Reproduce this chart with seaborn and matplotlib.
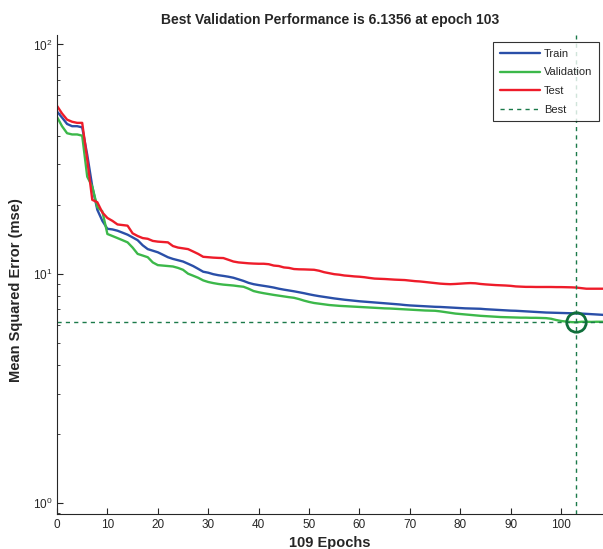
import numpy as np
import pandas as pd
import matplotlib
matplotlib.use("Agg")
import matplotlib.pyplot as plt
import seaborn as sns

# ---------------------------------------------------------------
# data (mse per epoch, epochs 0..109)
# ---------------------------------------------------------------
epochs = list(range(110))

train_mse = [
    51.0, 48.0, 45.0, 44.0, 44.0, 43.5, 33.0, 24.0, 19.0, 17.0,
    15.7, 15.6, 15.4, 15.1, 14.8, 14.4, 14.0, 13.3, 12.8, 12.6,
    12.4, 12.1, 11.8, 11.6, 11.45, 11.3, 11.05, 10.8, 10.5, 10.2,
    10.1, 9.95, 9.85, 9.78, 9.7, 9.6, 9.45, 9.3, 9.12, 9.0,
    8.92, 8.85, 8.78, 8.7, 8.6, 8.52, 8.45, 8.38, 8.3, 8.22,
    8.13, 8.05, 7.98, 7.92, 7.86, 7.8, 7.75, 7.7, 7.66, 7.62,
    7.58, 7.55, 7.52, 7.49, 7.46, 7.43, 7.4, 7.37, 7.34, 7.3,
    7.27, 7.25, 7.23, 7.21, 7.19, 7.17, 7.16, 7.14, 7.12, 7.1,
    7.08, 7.06, 7.05, 7.04, 7.03, 7.0, 6.98, 6.96, 6.94, 6.92,
    6.9, 6.89, 6.87, 6.85, 6.83, 6.81, 6.79, 6.77, 6.76, 6.75,
    6.74, 6.73, 6.72, 6.71, 6.7, 6.68, 6.66, 6.64, 6.62, 6.6,
]

val_mse = [
    48.3, 44.0, 41.0, 40.5, 40.5, 40.0, 26.5, 24.0, 19.5, 18.7,
    14.9, 14.6, 14.3, 14.0, 13.7, 13.0, 12.2, 12.0, 11.8, 11.2,
    10.9, 10.85, 10.8, 10.75, 10.6, 10.4, 10.0, 9.8, 9.6, 9.35,
    9.2, 9.1, 9.02, 8.96, 8.92, 8.88, 8.82, 8.77, 8.6, 8.4,
    8.3, 8.22, 8.15, 8.08, 8.02, 7.96, 7.9, 7.85, 7.75, 7.63,
    7.53, 7.45, 7.4, 7.35, 7.3, 7.27, 7.24, 7.22, 7.2, 7.18,
    7.16, 7.14, 7.12, 7.1, 7.08, 7.06, 7.05, 7.03, 7.01, 6.99,
    6.97, 6.95, 6.93, 6.91, 6.9, 6.89, 6.85, 6.8, 6.75, 6.7,
    6.67, 6.64, 6.61, 6.58, 6.55, 6.53, 6.51, 6.49, 6.47, 6.46,
    6.45, 6.44, 6.43, 6.43, 6.42, 6.42, 6.41, 6.4, 6.36, 6.28,
    6.22, 6.18, 6.15, 6.1356, 6.17, 6.17, 6.16, 6.17, 6.17, 6.16,
]

test_mse = [
    54.0, 50.0, 47.0, 46.0, 45.5, 45.5, 31.5, 21.0, 20.5, 18.5,
    17.5, 17.0, 16.4, 16.3, 16.2, 15.0, 14.6, 14.3, 14.2, 13.9,
    13.8, 13.75, 13.7, 13.2, 13.0, 12.9, 12.8, 12.5, 12.2, 11.85,
    11.8, 11.75, 11.72, 11.7, 11.5, 11.3, 11.2, 11.15, 11.1, 11.07,
    11.05, 11.05, 11.0, 10.85, 10.8, 10.65, 10.6, 10.48, 10.45, 10.44,
    10.42, 10.4, 10.3, 10.15, 10.05, 9.95, 9.9, 9.82, 9.78, 9.73,
    9.7, 9.65, 9.58, 9.52, 9.5, 9.48, 9.45, 9.42, 9.4, 9.38,
    9.33, 9.28, 9.25, 9.2, 9.15, 9.1, 9.05, 9.02, 9.0, 9.02,
    9.05, 9.08, 9.1, 9.08, 9.02, 8.98, 8.95, 8.92, 8.9, 8.88,
    8.85, 8.8, 8.78, 8.76, 8.76, 8.75, 8.75, 8.75, 8.75, 8.74,
    8.74, 8.73, 8.72, 8.7, 8.65, 8.6, 8.6, 8.6, 8.6, 8.6,
]

best_epoch = 103
best_perf = 6.1356

series = ["Train", "Validation", "Test"]
colors = {"Train": "#2a4fa8", "Validation": "#3cb84a", "Test": "#ee1c2a"}
best_color = "#1b7a4a"

# ---------------------------------------------------------------
# plot
# ---------------------------------------------------------------
sns.set_style("ticks")
plt.rcParams["font.family"] = ["Liberation Sans", "DejaVu Sans"]
plt.rcParams["xtick.direction"] = "in"
plt.rcParams["ytick.direction"] = "in"

fig = plt.figure(figsize=(6.03, 5.49), dpi=100)
ax = fig.add_axes([0.0945, 0.0638, 0.9055, 0.8725])

for name, vals in zip(series, [train_mse, val_mse, test_mse]):
    sns.lineplot(x=epochs, y=vals, color=colors[name], linewidth=1.7,
                 label=name, ax=ax)

ax.axvline(best_epoch, color=best_color, linestyle=(0, (3, 3)), linewidth=1.0,
           label="Best")
ax.axhline(best_perf, color=best_color, linestyle=(0, (3, 3)), linewidth=1.0)
ax.plot([best_epoch], [best_perf], marker="o", markersize=14, markerfacecolor="none",
        markeredgecolor="#0f6e3a", markeredgewidth=2.0, linestyle="none")

ax.set_yscale("log")
ax.set_ylim(0.895, 110)
ax.set_xlim(0, 108.3)
ax.set_xticks(range(0, 101, 10))

ax.set_title("Best Validation Performance is 6.1356 at epoch 103",
             fontsize=10, fontweight="bold", pad=8)
ax.set_xlabel("109 Epochs", fontsize=10.5, fontweight="bold", labelpad=4)
ax.set_ylabel("Mean Squared Error (mse)", fontsize=10.5, fontweight="bold")
ax.yaxis.set_label_coords(-0.062, 0.468)
ax.tick_params(labelsize=8.5, length=4)
ax.tick_params(which="minor", length=2.5)

sns.despine(ax=ax, top=True, right=True)

leg = ax.legend(loc="upper right", fontsize=8, frameon=True, fancybox=False,
                edgecolor="black", handlelength=3.6, handletextpad=0.35,
                borderpad=0.6, labelspacing=0.78, borderaxespad=0,
                bbox_to_anchor=(0.9927, 0.985))
leg.get_frame().set_linewidth(0.8)

fig.savefig("out.png", dpi=100)
